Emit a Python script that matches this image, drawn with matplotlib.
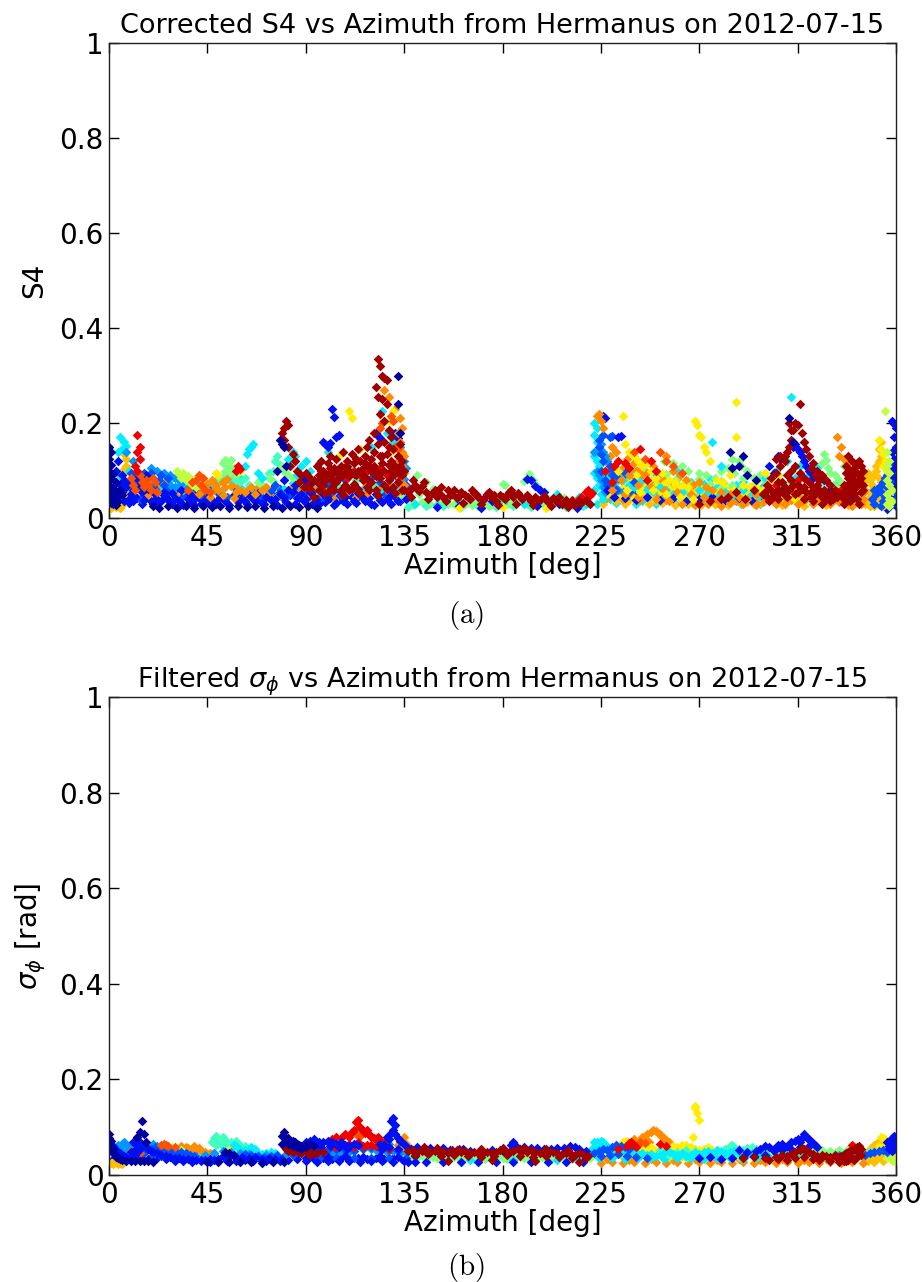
import numpy as np
import matplotlib
matplotlib.use("Agg")
import matplotlib.pyplot as plt

# ---------------- data (azimuth [deg], value x1000) ----------------
AZ_TICKS = [0, 45, 90, 135, 180, 225, 270, 315, 360]
Y_TICKS = [0, 0.2, 0.4, 0.6, 0.8, 1]
Y_TICKLABELS = ["0", "0.2", "0.4", "0.6", "0.8", "1"]

# Panel (a): Corrected S4
A_DKBLUE = [(0,150),(1,138),(0,125),(1,112),(0,100),(2,92),(1,84),(3,76),(0,70),(2,64),(1,58),(3,52),(0,46),(2,40),(4,36),(1,32),(3,28),(5,60),(6,48),
            (20,25),(23,22),(27,26),(31,22),(35,25),(39,22),(43,26),(47,23),(51,25),(55,22),(59,26),(63,23),(67,25),(71,22),
            (78,165),(79,155),(80,150),(81,110),(77,100),(75,25),(79,22),(83,26),(87,23),(91,25),(95,22),
            (132,300),(132,240),(133,180),(284,140),(290,130),(285,105),(288,110),(292,90),(296,80),(311,210),(313,160)]
A_BLUE = [(2,30),(4,45),(5,70),(6,55),(7,80),(8,65),(9,40),(10,50),(3,100),(4,120),(6,90),(7,35),(9,75),(11,60),(12,45),(13,85),(14,70),(15,55),(16,38),(17,90),(18,62),
          (20,30),(22,40),(24,35),(26,45),(28,30),(30,42),(32,36),(34,28),(36,40),(38,33),(40,45),(42,30),(44,38),(21,50),(25,55),(29,52),(33,58),(37,50),(41,55),
          (46,30),(50,38),(54,32),(58,42),(62,35),(66,40),(70,32),(72,45),(74,38),(60,55),(64,48),(68,52),
          (76,40),(78,50),(80,45),(82,60),(84,55),(86,42),(88,50),(90,40),(92,55),(94,45),(80,80),(85,70),(89,80),(93,75),
          (98,160),(99,155),(100,150),(101,158),(102,230),(103,213),(104,170),(105,175),(122,178),(123,172),(124,168),(131,178),(132,168),
          (96,30),(100,40),(104,32),(108,45),(112,35),(116,42),(120,30),(124,38),(128,45),(132,35),(136,40),(98,50),(106,55),(114,52),(122,50),(130,55),
          (191,82),(193,80),(195,68),(197,60),(199,55),(185,48),(175,35),(160,26),(150,24),(170,22),(196,25),(206,30),(214,22),
          (226,215),(227,210),(233,170),(234,172),(228,60),(231,45),(236,42),(241,38),(246,45),(252,38),(258,42),(264,35),(270,40),(276,45),(282,38),(288,42),(294,36),(300,40),
          (313,150),(314,155),(315,145),(316,140),(317,130),(318,120),(319,110),(320,100),(321,95),(322,85),(306,130),(307,125),(302,110),(304,95),(325,90),(327,80),(330,60),(333,55),(300,60),(308,60),(316,65),(324,60),(332,45),(340,40),
          (358,205),(359,198),(360,190),(359,170),(360,150),(358,140),(359,125),(360,115),(359,105),(360,85),(358,90),(360,70)]
A_BLUE_LOW = [(3,35),(5,28),(7,50),(9,32),(11,36),(13,42),(15,30),(17,48),(19,35),(21,40),(23,33),(25,48),(27,38),(29,30),(31,45),(33,32),(35,50),(37,36),(39,28),(41,42),(43,34),(45,48),(47,38),(49,30),(51,44),(53,36),(55,28),(57,48),(59,34),(61,42),(63,30),(65,46),(67,36),(69,42),(71,30),(73,50),(75,36),(77,28),(79,44),(81,34),(83,48),(85,30),(87,42),(89,36),(91,46),(93,30),(95,38),(97,48),(99,34),(101,42),(103,28),(105,46),(107,36),(109,30),(111,44),(113,32),(115,48),(117,36),(119,42),(121,28),(123,46),(125,34),(127,40),(129,30),(131,44),(133,36),(135,48),
              (355,60),(356,75),(357,85),(358,95),(359,80),(360,65),(357,45),(358,30),(359,40),(360,25),(356,20)]
A_MBLUE = [(10,95),(11,88),(12,92),(13,78),(14,64),(16,95),(17,72),(18,84),(19,95),(20,68),(21,62),(23,80),(24,90),(25,70),(26,60),(27,85),
           (74,60),(76,70),(78,55),(96,80),(100,70),(104,90),(108,80),(112,65),(116,95),(120,85),(124,75),(128,95),(132,85),(136,70),
           (224,150),(225,135),(226,120),(225,100),(227,80),(228,70),(229,110),(230,90),(231,100),(232,60),(226,175),(224,165),(233,85),(236,95),(238,55),(240,75),(229,170),(230,172),
           (350,60),(351,50),(352,65),(353,55),(354,75),(355,85),(356,90),(357,100),(358,110),(359,90),(360,100),(355,45),(354,35),(353,25),(356,65),(358,75),(359,60),(360,55),(349,40),(350,30),(357,55),(360,40)]
A_MBLUE_LOW = [(2,48),(6,62),(10,56),(14,40),(18,52),(22,62),(26,50),(30,58),(34,46),(38,55),(42,48),(46,60),(50,52),(54,45),(58,62),(62,50),(66,58),(70,45),(74,52),(78,62),(82,48),(86,58),(90,52),(94,60),(98,44),(102,55),(106,48),(110,62),(114,45),(118,55),(122,66),(126,50),(130,60),(134,52),
               (228,48),(234,56),(240,50),(246,58),(252,50),(258,60),(264,52),(270,48),(276,56),(282,50),(288,60),(294,52),(300,48)]
A_LBLUE = [(8,140),(11,120),(19,105),(22,98),(25,95),(28,90),(30,85),(32,80),(28,70),(30,65),(33,72),(35,62),
           (133,150),(134,135),(135,120),(136,105),(133,98),(135,82),
           (222,140),(223,100),(224,90),(225,80),(226,65),(227,55),(225,155),(226,140),(227,130),(228,120),(229,100),(230,75),(231,65),(233,60),(235,55)]
A_CYAN = [(5,170),(6,145),(7,160),(8,152),(4,140),(9,100),(10,70),(3,55),
          (64,145),(65,150),(66,155),(63,135),(62,110),(68,95),(70,85),
          (84,140),(85,130),(82,125),(86,90),(88,110),(90,120),(92,100),
          (125,225),(127,180),(120,150),(100,140),(96,115),(110,105),(130,160),
          (140,30),(150,28),(160,35),(170,40),(180,32),(190,30),(200,38),(210,32),(218,30),(215,45),(205,50),
          (222,200),(223,190),(222,175),(223,160),(224,145),(222,130),(223,120),(224,110),(222,95),(223,85),(224,70),(222,60),(225,50),(226,40),(228,95),(230,85),(232,75),(235,80),(238,70),(240,65),(243,75),(246,60),(249,55),(252,65),(255,58),(258,50),(262,55),(266,48),(270,60),(274,52),(278,45),(282,55),(286,48),(290,58),(294,50),(298,45),(276,160),(280,110),(250,90),(260,100),
          (312,255),(318,160),(310,120),(305,100),(300,85),(320,130),(324,105),(316,110)]
A_CYAN_LOW = [(60,65),(64,58),(68,66),(72,60),(76,68),(80,62),(84,74),(88,65),(92,70),(96,62),(100,75),(104,66),(108,58),(112,70),(116,62),(120,68),(124,58),(128,72),(132,64),
              (223,30),(226,35),(229,40),(232,32),(235,38),(238,44),(241,30),(244,36),(247,42),(250,30),(253,38),(256,46),(259,32),(262,40),(265,34),(268,42),(271,32),(274,38),(277,30),(280,44),(283,34),(286,38),(289,30),(292,44),(295,36),(298,30),
              (302,62),(308,70),(314,85),(320,90),(326,75),(332,70),
              (227,88),(231,72),(234,92),(237,82),(239,100),(242,86),(245,70),(248,78),(251,95),(254,84),(257,72),(260,82),(263,68),(266,76),(269,64),(272,72),(275,82),(278,66),(281,74),(284,62),(287,70),(290,76),(293,66),(296,60),(299,68),
              (2,70),(5,88),(9,60),(12,75),(16,82),(20,78),(24,66),(28,80),(32,70),(36,66),(40,74),(44,64),(48,70),(52,62),(56,78),(60,85)]
A_AQUA = [(50,85),(51,78),(53,90),(56,88),(58,80),(60,75),(62,85),(64,70),(76,120),(77,130),(78,112),(75,100),(73,95),
          (97,75),(105,65),(113,80),(121,70),(129,60),(135,55),
          (137,24),(145,25),(153,26),(161,24),(169,26),(177,24),(185,25),(193,24),(201,26),(209,24),(217,25)]
A_LGREEN = [(52,115),(53,122),(54,118),(55,110),(56,122),(57,105),(53,100),(55,95),(58,90),(70,70),(73,85),(75,78),(68,75),
            (79,110),(80,100),(82,90),(84,85),(86,80),(134,60),(135,45),(136,50),(133,40),
            (141,90),(145,75),(148,62),(150,50),(156,45),(160,52),(164,38),(168,42),(172,35),(176,45),(180,72),(181,70),(184,50),(188,40),(190,78),(192,92),(194,80),(196,68),(198,55),(200,45),(204,38),(208,42),(212,35),(216,40),(138,38),(142,50),(152,40),(158,30),(166,28),(174,25),(182,30),(192,35),(202,30),(212,28),
            (254,120),(258,115),(262,110),(265,100),(270,95),(273,90),(277,85),(280,100),(283,105),(286,95),(289,110),(292,100),(295,85),(298,90),(285,125),(288,120),(264,60),(272,55),(280,62),(290,65),(298,55),
            (327,135),(328,122),(326,115),(329,105),(330,95),(332,90),(334,80),(336,110),(331,70),(325,70),(318,55),(310,70),(302,50)]
A_LGREEN_LOW = [(139,28),(143,34),(147,30),(151,36),(155,30),(159,36),(163,30),(167,34),(171,28),(175,32),(179,38),(183,32),(187,36),(191,30),(195,34),(199,30),(203,34),(207,28),(211,32),(215,28),(219,32),
                (300,40),(304,45),(308,50),(312,60),(316,55),(320,50),(324,45),(328,58),(332,52),(336,60),(340,55),(344,50),
                (240,85),(245,100),(250,75),(255,92),(260,85),(265,78),(270,82),(275,72),(280,78),(285,70),(290,85),(295,72),(300,78)]
A_YGREEN = [(31,100),(32,92),(33,85),(34,95),(35,80),(36,88),(37,75),(38,70),(39,82),(40,65),
            (355,225),(356,140),(357,120),(356,110),(357,95),(356,80),(357,70),(358,60),(356,50),(357,40),(356,30),(357,25),(358,35)]
A_YELLOW = [(49,95),(50,90),(60,100),(110,225),(111,210),(128,205),(130,225),(129,140),(115,145),(105,130),(160,22),(180,24),(200,22),
            (235,215),(236,155),(238,140),(240,130),(242,120),(244,110),(246,115),(248,100),(250,85),(253,95),(256,80),(259,75),(262,70),(265,65),(268,205),(269,195),(270,175),(271,170),(272,150),(273,140),(275,120),(278,80),(281,75),(284,90),(287,245),(287,170),(290,70),(293,65),(296,75),(299,60),(233,100),(237,60),(243,55),(249,60),(255,50),(261,45),(267,40),
            (302,75),(306,90),(300,95),(304,60),(352,165),(353,145),(354,135),(355,120),(354,110),(356,100)]
A_YELLOW_LOW = [(226,70),(229,80),(232,88),(235,65),(238,78),(241,90),(244,72),(247,80),(250,68),(253,75),(256,62),(259,70),(262,58),(265,52),(268,60),(271,48),(274,55),(277,50),(280,48),(283,56),(286,60),(289,52),(292,58),(295,48),(298,45),
                (308,45),(314,40),(320,60),(326,52),(332,65),
                (228,50),(231,58),(234,48),(237,52),(240,42),(243,62),(246,52),(249,44),(252,56),(255,66),(258,56),(261,62),(264,46),(267,54),(270,66),(273,48),(276,40),(279,58),(282,64),(285,50),(288,56),(291,46),(294,56),(297,62)]
A_GOLD = [(0,25),(1,22),(2,28),(3,24),(4,30),(5,22),(6,27),(7,80),(7,95),(8,110),(8,125),(7,135),(6,100),(7,65),(8,50),
          (229,60),(233,45),(238,38),(244,48),(250,35),(256,42),(262,38),(268,35),(274,40),(280,36),(286,40),(292,34),(298,32),
          (308,28),(318,26),(328,28),(338,28),
          (345,75),(346,85),(347,95),(348,80),(349,70),(350,90),(351,100),(352,85),(353,75),(346,60),(348,55),(350,50),(352,45),(354,60),(347,40),(349,35),(351,30),(353,35),(355,40),(346,30),(348,25),(350,25),(352,28),(354,25),(351,110),(352,120),(353,130),(352,145),(353,160),
          (226,30),(232,35),(236,30),(241,35),(247,30),(253,32),(259,28),(265,30),(271,28),(277,30),(283,28),(289,32),(295,30)]
A_ORANGE = [(41,50),(43,62),(45,72),(47,80),(49,70),(50,60),(52,75),(54,82),(56,68),(58,55),(46,45),(52,48),(57,42),
            (60,60),(62,55),(65,65),(67,50),(70,58),(72,65),
            (126,270),(128,255),(131,230),(133,210),(134,190),(132,180),(133,160),(134,140),(135,130),(132,120),(134,110),(135,95),(133,85),(135,70),
            (224,220),(223,215),(225,205),(226,190),(230,150),(232,140),(237,125),(240,115),(243,105),(246,95),(249,110),(252,85),(255,130),(258,100),(261,90),(264,80),(267,70),(270,75),(273,65),(276,60),(280,55),(284,50),(288,45),(292,40),(296,50),(300,38),(234,80),(238,90),(242,70),(248,65),(254,60),(260,55),(266,50),(272,45),(278,38),(284,32),(290,30),(296,28),(230,60),(236,50),(242,45),(250,40),(256,35),(262,30),(268,28),(274,30),(280,26),
            (333,170),(335,150),(334,130),(336,125),(338,115),(300,45),(305,30),(310,35),(315,30),(320,45),(325,40),(330,30),(335,45),(340,25),(345,40)]
A_ORANGE_LOW = [(92,45),(97,52),(103,40),(108,50),(113,44),(118,52),(123,46),(128,55),(133,48),
                (225,95),(227,120),(229,130),(231,85),(233,95),(235,105),(237,95),(239,80),(241,100),(244,90),(247,75),(251,70),(254,78),(257,65),(260,72),(263,62),(266,58),(269,55),(272,60),(275,48),(278,52),(281,45),(285,42),(289,50),(293,48),(297,42),
                (302,42),(304,35),(307,40),(309,30),(312,38),(314,44),(317,35),(319,40),(322,30),(324,38),(327,44),(329,36),(332,40),(334,34),(337,38),(339,30),(342,35),(344,30),
                (228,42),(232,50),(235,40),(239,48),(243,38),(247,52),(251,46),(255,38),(259,46),(263,52),(267,44),(271,38),(275,42),(279,48),(283,40),(287,36),(291,44),(295,40),(299,34),
                (14,60),(18,48),(22,70),(26,78),(30,48),(34,60),(38,48),(48,58),(53,66),(58,72),(63,58),(68,64),(73,50),(78,46),(83,62),(88,58),(93,66),(98,62),(103,68),(108,62),(113,58),(118,70),(123,66),(128,65),(133,72),
                (301,55),(303,48),(305,62),(309,52),(313,58),(317,48),(321,62),(325,50),(329,55),(333,62),(337,50),(341,45),(345,52)]
A_RORANGE = [(10,85),(11,70),(12,60),(14,90),(15,75),(16,65),(17,80),(18,70),(19,60),(20,85),(21,75),(22,55),
             (36,60),(38,75),(40,80),(42,70),(44,60),(46,55),(41,90),(43,85),
             (125,200),(124,190),(129,215),(130,205),(131,150),(132,145),
             (240,140),(245,125),(252,138),(255,120),(258,110),(262,95)]
A_RED = [(13,175),(14,150),(13,140),(14,125),(12,110),(13,100),(59,110),(60,104),(58,98),
         (100,90),(103,80),(106,95),(109,85),(112,100),(115,90),(118,100),(121,95),(124,105),(127,90),(130,100),(133,90),
         (214,35),(216,45),(218,55),(219,60),(220,48),(221,52),(217,40),(212,38),
         (230,75),(233,120),(236,115),(238,105),(243,145),(246,80),(248,120),(250,100),(227,100),(231,110),
         (305,70),(315,80),(325,55),(335,60)]
A_DKRED = [(81,205),(82,195),(80,190),(79,180),(80,165),(82,150),(84,135),(85,120),(83,110),(86,100),(88,90),(90,95),(92,85),(87,75),(89,65),(91,70),
           (95,110),(96,90),(97,120),(98,100),(99,80),(100,115),(101,130),(102,95),(103,105),(104,125),(105,85),(106,110),(107,140),(108,95),(109,120),(110,100),(111,135),(112,115),(113,90),(114,145),(115,120),(116,105),(117,130),(118,150),(119,110),(120,125),(121,140),(122,100),(123,155),(124,130),(125,115),(126,160),(127,135),(128,150),(129,120),(130,145),(131,110),(132,130),(133,155),(134,120),(135,100),
           (96,60),(98,70),(100,55),(102,65),(104,75),(106,60),(108,70),(110,58),(112,72),(114,62),(116,80),(118,65),(120,75),(122,60),(124,85),(126,70),(128,80),(130,65),(132,75),(134,60),
           (123,335),(124,320),(125,300),(126,295),(127,290),(122,275),(123,255),(125,250),(127,240),(124,220),(126,205),(128,185),(121,180),(129,170),(119,165),
           (137,55),(139,80),(140,70),(141,62),(143,68),(145,55),(147,48),(149,60),(151,52),(153,45),(155,58),(157,50),(159,42),(161,55),(163,48),(165,40),(167,52),(169,45),(171,38),(173,50),(175,42),(177,36),(179,48),(181,40),(183,55),(185,45),(187,52),(189,40),(191,48),(193,36),(195,44),(197,38),(199,46),(201,34),(203,42),(205,36),(207,30),(209,38),(211,32),(213,28),(215,35),(144,75),(152,65),(158,60),(166,58),(174,55),(184,58),(138,45),(146,40),(154,35),(162,32),(170,30),(178,28),(186,30),(194,28),(202,26),(210,24),
           (283,45),(287,55),(291,40),(295,60),(299,50),(270,30),(275,35),(280,40),
           (301,70),(303,85),(305,95),(307,110),(309,130),(310,140),(311,150),(312,165),(313,185),(314,200),(315,195),(316,240),(317,180),(318,160),(319,145),(320,130),(322,115),(324,100),(326,90),(328,80),(330,70),(332,60),(304,50),(306,60),(308,75),(310,90),(312,100),(314,110),(316,95),(318,85),(320,75),(322,65),(324,55),(326,45),(328,40),(330,35),(302,35),(306,40),(310,45),(314,50),(318,40),(322,35),(326,30),(311,200),(312,185),(305,125),(307,130),(309,120),(321,105),(323,90),(325,80),
           (336,30),(337,45),(338,60),(339,75),(340,90),(341,105),(342,115),(343,120),(344,110),(337,95),(338,85),(339,100),(340,65),(341,50),(342,40),(343,30),(344,55),(345,70),(336,70),(336,50),(339,35),(341,80),(343,90),(345,100)]
A_DKRED_MORE = [(94,45),(99,52),(103,58),(107,48),(111,62),(115,52),(119,58),(123,48),(127,62),(131,52),(135,58),(97,100),(101,105),(105,100),(109,110),(113,125),(117,115),(121,110),(125,130),(129,100),(133,110),
                (138,62),(142,56),(148,52),(150,44),(156,48),(160,46),(164,44),(168,50),(172,44),(176,48),(180,44),(182,48),(188,46),(192,42),(196,40),(200,40),(204,38),(206,44),(208,34),(212,36),(216,32),(218,38),(220,30),
                (300,55),(303,60),(306,75),(309,65),(312,80),(315,70),(318,65),(321,55),(324,70),(327,60),(330,50),(333,45),(336,40),(339,55),(342,70),(344,85),(337,110),(340,120),(342,95),(338,130),
                (92,62),(94,80),(96,72),(98,85),(100,92),(102,80),(104,98),(106,88),(108,108),(110,88),(112,92),(114,100),(116,90),(118,82),(120,100),(122,88),(124,95),(126,100),(128,112),(130,90),(132,100),(134,90),
                (301,45),(303,40),(305,50),(307,55),(309,48),(311,60),(313,70),(315,55),(317,62),(319,55),(321,45),(323,50),(325,60),(327,52),(329,45),(331,40),(333,55),(335,50),(337,60),(339,68),(341,62),(343,72),(345,60)]

# Panel (b): Filtered sigma_phi [rad]
B_DKBLUE = [(0,85),(0,78),(1,72),(0,65),(1,60),(2,55),(1,50),(2,45),(3,42),(3,38),(4,35),(5,33),(6,32),(8,30),(10,30),(12,29),(14,30),(16,29),(18,30),(20,28),(15,112),(14,90),(13,80),(16,85),(17,70),
            (45,28),(50,27),(55,28),(60,27),(65,28),(70,26),(75,28),(80,27),(53,48),(55,45),(57,42),
            (80,90),(80,80),(79,82),(81,75),(82,78),(83,70),(84,72),(85,68),(86,65),(87,62),(88,60),(79,65),(90,58),
            (82,65),(84,60),(86,58),(88,55),(90,62),(92,65),(94,60)]
B_BLUE = [(2,60),(3,52),(4,48),(5,45),(6,42),(7,40),(8,38),(9,36),(10,38),(11,40),(12,42),(13,48),(14,55),(15,60),(16,62),(17,58),(18,55),(19,50),(20,48),(22,45),(24,42),(26,40),(28,38),(30,36),(32,35),(34,34),(36,33),(38,32),(40,32),(42,31),(44,32),(46,33),(48,32),(50,34),(10,48),(12,52),(14,70),(13,65),(12,72),(11,68),
          (52,40),(55,38),(58,36),(61,38),(64,35),(67,37),(70,34),(73,36),(76,34),(79,33),(60,30),(66,29),(72,30),(78,30),
          (90,68),(92,72),(94,75),(96,70),(98,68),(100,72),(102,70),(104,65),(106,68),(108,62),(110,60),(93,62),(97,58),(101,60),(105,58),(109,55),(112,65),(114,62),
          (130,120),(129,112),(131,105),(130,95),(129,88),(131,85),(127,80),(128,75),(132,78),(133,72),(134,68),(126,62),(124,65),(136,60),(125,55),(128,58),(132,55),
          (90,30),(95,28),(100,30),(105,29),(110,30),(115,28),(120,29),(125,30),(130,28),(135,30),(140,28),(92,40),(100,38),(108,40),(116,38),(124,40),(132,38),(140,40),
          (138,55),(141,58),(144,52),(147,56),(150,54),(153,57),(156,53),(159,52),(162,55),(165,50),(170,52),(175,53),(180,50),(184,62),(185,68),(186,60),(188,55),(190,58),(193,56),(196,57),(199,55),(202,54),(205,57),(208,56),(211,60),(213,58),(215,54),(218,50),(137,28),(145,27),(153,28),(161,27),(169,28),(177,27),(185,28),(193,27),(201,28),(209,27),(217,28),
          (270,35),(275,38),(280,34),(285,36),(290,38),(295,40),(300,42),(296,50),(298,55),(300,60),(302,58),(304,55),(306,62),(308,65),(310,60),(312,68),(314,72),(315,75),(316,70),(317,78),(318,85),(319,80),(320,75),(321,70),(322,66),(323,62),(324,58),(304,50),(308,52),(312,55),(316,58),(320,60),(292,48),(288,52),
          (357,60),(358,65),(359,70),(360,75),(358,78),(359,82),(360,68),(357,55),(358,50),(359,55),(360,60),(356,70)]
B_BLUE_LOW = [(2,34),(6,36),(10,33),(14,35),(18,34),(22,36),(26,33),(30,30),(34,30),(38,28),(42,29),(46,28),(50,29),(54,30),(58,29),(62,31),(66,33),(70,30),(74,32),(78,34),(82,32),(86,34),(90,36),(94,34),(98,36),(102,34),(106,36),(110,34),(114,36),(118,34),(122,36),(126,34),(130,36),(134,34)]
B_MBLUE = [(15,50),(17,52),(19,55),(21,58),(23,55),(25,52),(27,50),(29,48),(31,46),(33,48),(35,45),(37,42),(39,40),(16,45),(20,42),(24,40),
           (62,44),(65,42),(68,40),(71,38),(74,40),(77,42),(96,35),(104,36),(112,35),(120,36),(128,35),(136,36),
           (222,45),(224,50),(226,55),(228,52),(230,58),(232,62),(234,60),(236,58),(238,55),(225,40),(229,42),(233,44),(237,40),(241,38),(246,36),
           (346,42),(348,45),(350,48),(352,50),(354,52),(356,48),(358,55),
           (84,42),(88,45),(92,48),(96,50),(100,52),(104,55),(108,52),(112,50),(116,55),(120,58),(124,55),(128,52),(132,50)]
B_LBLUE = [(6,65),(7,70),(8,62),(9,58),(10,55),(11,60),(18,62),(20,65),(22,60),(24,58),(26,55),(28,50),(30,52),(5,55),(4,62),
           (92,55),(95,50),(98,52),(101,48),(104,50),(107,46),(110,48),(96,45),(100,42),(104,44),
           (120,55),(122,52),(124,50),(127,48),(130,50),(133,45),(136,48),(128,65),
           (332,40),(334,42),(336,44),(338,46),(340,48),(342,50),(341,52),(339,45),(343,42),
           (3,45),(8,50),(12,58),(16,55),(20,58),(24,52),(28,45),(32,44),(36,42),(40,40),(44,42),(48,45),(52,50),(56,48),(60,45),(64,44),(68,40),(72,42),(76,38),(80,40)]
B_CYAN = [(57,62),(58,60),(59,57),(60,55),(62,52),(64,50),(66,48),(68,45),(70,44),(72,46),(74,48),(76,45),(65,58),(67,55),
          (155,32),(165,31),(175,33),(185,32),(195,30),(205,31),(215,33),(200,45),(210,44),
          (222,68),(223,70),(224,65),(225,72),(226,68),(227,62),(228,60),(222,58),(221,55),(220,50),(223,52),(229,55),(230,50),(232,52),(234,48),(236,50),(238,46),(240,48),(242,44),(244,46),(246,42),(248,44),(250,40),(252,42),(254,45),(256,48),(258,44),(260,42),(262,45),(264,40),(266,42),(268,46),(270,44),(272,48),(274,50),(276,47),(278,52),(280,48),(282,45),(284,48),(286,50),(288,46),(290,44),(292,42),(294,45),(296,48),(298,44),(300,46),
          (224,36),(230,35),(236,34),(242,36),(248,35),(254,34),(260,36),(266,35),(272,34),(278,36),(284,35),(290,34),(296,36),(302,38),(306,40),(310,42),(314,40),(318,42),(322,40),(326,36),(330,34)]
B_AQUA = [(47,70),(48,78),(49,82),(50,75),(51,72),(52,80),(53,70),(54,68),(50,65),(49,62),(52,60),(56,68),(58,72),(60,62),(62,60),
          (122,58),(125,62),(126,65),(187,45),(205,42),
          (280,50),(282,55),(284,60),(285,62),(286,58),(288,55),(290,52),(292,56),(294,58),(296,54),(298,50),(283,48),(287,46),
          (252,52),(256,50),(260,48),(264,52),(268,50),(272,46),(276,44)]
B_LGREEN = [(136,40),(138,38),(140,36),(142,39),(144,37),(146,35),(148,38),(150,36),(152,34),(154,37),(156,35),(158,38),(160,36),(162,34),(164,37),(166,35),(168,38),(170,36),(172,34),(174,37),(176,35),(178,38),(180,36),(182,34),(184,37),(186,35),(188,38),(190,36),(192,34),(194,37),(196,35),(198,38),(200,36),(202,34),(204,37),(206,35),(208,38),(210,36),(212,34),(214,37),(216,35),(218,38),(220,36),(139,44),(149,42),(159,43),(169,42),(179,44),(189,43),(199,42),(209,41),
            (256,38),(264,36),(272,38),(280,36),(288,38),(296,36),
            (322,50),(324,48),(326,46),(328,44),(330,42),(332,45),(334,48),(336,46),(338,44),(326,52),(330,50),(334,52),(338,55),(325,40),(330,38),(335,40),
            (300,42),(305,44),(310,46),(315,44),(320,42),(340,45),(344,48),(348,50)]
B_YGREEN = [(28,52),(29,58),(30,56),(31,55),(32,50),(33,52),(34,48),(356,35),(357,38),(358,42),(359,40),(360,38),(359,30)]
B_YELLOW = [(54,62),(55,58),(56,55),
            (232,60),(234,65),(235,70),(236,68),(237,72),(238,66),(239,62),(240,58),(242,56),(244,60),(246,55),(248,52),(250,50),(256,55),(258,60),(260,58),(262,62),(264,56),(266,54),(268,55),(270,52),(272,55),(274,58),(276,52),(278,50),(266,58),(264,62),(268,140),(268,145),(269,130),(270,115),(267,80),(236,50),(244,48),(252,46),
            (353,80),(354,78),(355,76),(352,60),(356,62),(358,45),
            (240,52),(248,58),(254,55),(262,50),(270,48),(278,45),(282,52),(290,48)]
B_GOLD = [(1,25),(2,22),(3,28),(4,24),(5,26),(6,22),(3,33),
          (230,45),(234,42),(238,40),(242,42),(246,45),(250,48),(254,46),(258,42),(262,40),(266,43),(270,38),(274,40),(278,42),(282,40),
          (345,40),(346,45),(347,50),(348,55),(349,58),(350,62),(351,65),(352,70),(353,75),(354,72),(355,68),(346,35),(348,38),(350,40),(352,45),(354,50),(356,55),(357,58),(347,30),(349,32),(351,34),(353,36),(355,38),(357,42),(350,28),(354,30),(358,32),(360,30)]
B_ORANGE = [(33,60),(35,58),(36,56),(38,55),(40,52),(42,50),(44,48),(46,47),(48,46),(39,60),(41,57),
            (132,62),(133,68),(134,72),(135,70),(136,65),(137,60),(133,55),(135,58),(134,50),(136,52),(132,48),(135,80),
            (244,80),(246,85),(248,90),(249,95),(250,92),(251,88),(252,85),(253,80),(254,78),(255,74),(256,70),(245,75),(247,70),(243,72),(241,68),(240,75),(242,64),
            (225,25),(230,28),(235,26),(240,28),(245,25),(250,27),(255,26),(260,28),(265,25),(270,27),(275,26),(280,28),(285,25),(290,27),(295,26),(300,28),(305,25),(310,27),(315,26),(320,28),(325,25),(330,27),(335,26),(340,28),(345,25),(228,33),(238,32),(248,33),(258,32),(268,33),(278,32),(288,33),(298,32),(308,33),(318,32),(328,33),(338,32)]
B_RORANGE = [(10,50),(12,48),(14,45),(24,62),(25,65),(26,63),(27,60),(30,58),(113,85),(115,82),(242,62),(243,68),(245,66)]
B_RED = [(100,70),(102,75),(104,80),(106,78),(108,85),(110,80),(111,90),(112,95),(113,110),(114,115),(115,100),(116,92),(117,88),(118,95),(119,85),(120,80),(121,78),(122,75),(123,80),(124,72),(125,70),(126,68),(110,65),(114,68),(118,62),(122,60),(126,58),(106,62),(102,60),
         (237,60),(238,66),(239,70),(240,62),(241,58),(233,55),(252,65),(255,60),(340,62),(341,58),
         (104,58),(108,60),(112,58),(116,60),(120,62),(124,58),(128,55)]
B_DKRED = [(80,60),(81,55),(82,50),(83,58),(84,62),(85,55),(86,52),(87,48),(88,52),(89,55),(90,50),(91,46),(92,50),
           (84,48),(88,45),(92,42),(95,45),(98,48),
           (137,50),(139,52),(141,48),(143,50),(145,53),(147,49),(149,51),(151,48),(153,50),(155,47),(157,52),(159,50),(161,48),(163,50),(165,46),(167,49),(169,47),(171,45),(173,48),(175,46),(177,49),(179,52),(181,50),(183,48),(185,51),(187,54),(189,50),(191,48),(193,52),(195,49),(197,47),(199,50),(201,45),(203,48),(205,46),(207,44),(209,47),(211,45),(213,42),(215,45),(217,43),(219,40),(140,42),(146,44),(152,40),(158,42),(164,40),(170,38),(176,40),(182,42),(188,40),(194,38),(200,40),(206,37),(212,36),(218,35),(144,58),(150,56),(160,55),(170,54),(180,56),(190,57),(200,55),(210,52),(155,30),(175,32),(195,30),(215,28),
           (290,35),(295,38),(300,36),(305,38),(308,42),(310,40),(312,44),(314,48),(316,52),(317,56),(318,54),(319,50),(320,48),(322,44),(324,40),(326,38),(302,32),(306,34),(310,32),(314,36),(318,38),(322,34),
           (333,35),(334,38),(335,40),(336,42),(337,45),(338,48),(339,50),(340,52),(341,55),(342,58),(343,60),(344,55),(336,30),(338,32),(340,35),(342,38),(344,42),(334,28),(337,30),(341,32),(343,45),(339,40),
           (326,42),(328,40),(330,38),(332,42),(325,32),(330,30)]

COLORS = {
    "gold": "#ffc000", "orange": "#ff8c00", "yellow": "#ffee00", "ygreen": "#c0ff40",
    "lgreen": "#80ff80", "aqua": "#40ffc0", "cyan": "#00eeff", "lblue": "#0098ff",
    "mblue": "#0050ff", "rorange": "#ff5000", "red": "#ee0000", "blue": "#0010f0",
    "dkred": "#a00000", "dkblue": "#0000a0",
}

# drawing order: bottom-band fills first, then the individual colour groups on top
PANEL_A = [("blue", A_BLUE_LOW), ("mblue", A_MBLUE_LOW), ("cyan", A_CYAN_LOW), ("lgreen", A_LGREEN_LOW),
           ("gold", A_GOLD), ("orange", A_ORANGE_LOW), ("yellow", A_YELLOW_LOW),
           ("aqua", A_AQUA), ("lgreen", A_LGREEN), ("cyan", A_CYAN), ("lblue", A_LBLUE),
           ("mblue", A_MBLUE), ("blue", A_BLUE), ("orange", A_ORANGE), ("yellow", A_YELLOW),
           ("ygreen", A_YGREEN), ("rorange", A_RORANGE), ("red", A_RED),
           ("dkred", A_DKRED_MORE), ("dkred", A_DKRED), ("dkblue", A_DKBLUE)]
PANEL_B = [("blue", B_BLUE_LOW), ("gold", B_GOLD), ("orange", B_ORANGE), ("yellow", B_YELLOW),
           ("ygreen", B_YGREEN), ("lgreen", B_LGREEN), ("aqua", B_AQUA), ("cyan", B_CYAN),
           ("lblue", B_LBLUE), ("mblue", B_MBLUE), ("rorange", B_RORANGE), ("red", B_RED),
           ("blue", B_BLUE), ("dkred", B_DKRED), ("dkblue", B_DKBLUE)]

# ---------------- figure ----------------
plt.rcParams["font.family"] = ["DejaVu Sans"]
W, H = 922, 1282
fig = plt.figure(figsize=(W / 100, H / 100), dpi=100)

def make_axes(top_px, bottom_px):
    left, right = 109, 896
    return fig.add_axes([left / W, 1 - bottom_px / H, (right - left) / W, (bottom_px - top_px) / H])

ax1 = make_axes(43, 518)
ax2 = make_axes(697, 1175)

def draw(ax, groups, title, ylabel):
    for name, pts in groups:
        arr = np.array(pts, dtype=float)
        ax.scatter(arr[:, 0], arr[:, 1] / 1000.0, s=24, marker="D", color=COLORS[name],
                   linewidths=0, zorder=2)
    ax.set_xlim(0, 360)
    ax.set_ylim(0, 1)
    ax.set_xticks(AZ_TICKS)
    ax.set_xticklabels([str(t) for t in AZ_TICKS])
    ax.set_yticks(Y_TICKS)
    ax.set_yticklabels(Y_TICKLABELS)
    ax.tick_params(direction="in", length=7, width=1, top=True, right=True,
                   labelsize=20, pad=4, colors="black")
    for sp in ax.spines.values():
        sp.set_linewidth(1.0)
        sp.set_color("#202020")
    ax.set_title(title, fontsize=19.5, pad=7, math_fontfamily="dejavusans")
    ax.set_xlabel("Azimuth [deg]", fontsize=20, labelpad=0)
    ax.set_ylabel(ylabel, fontsize=20, labelpad=8, math_fontfamily="dejavusans")

draw(ax1, PANEL_A, "Corrected S4 vs Azimuth from Hermanus on 2012-07-15", "S4")
draw(ax2, PANEL_B, r"Filtered $\sigma_\phi$ vs Azimuth from Hermanus on 2012-07-15",
     r"$\sigma_\phi$ [rad]")

fig.text(466 / W, 1 - 616 / H, r"$\mathrm{(a)}$", ha="center", va="center", fontsize=21,
         math_fontfamily="cm")
fig.text(466 / W, 1 - 1268 / H, r"$\mathrm{(b)}$", ha="center", va="center", fontsize=21,
         math_fontfamily="cm")

fig.savefig("out.png", dpi=100)
